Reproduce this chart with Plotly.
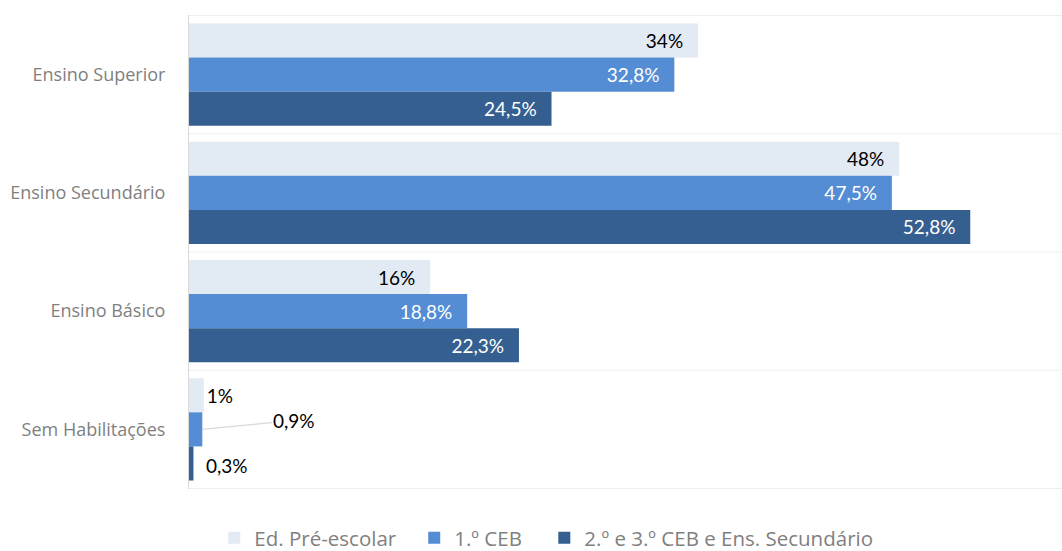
import plotly.graph_objects as go

categories = ["Ensino Superior", "Ensino Secundário", "Ensino Básico", "Sem Habilitações"]
series_names = ["Ed. Pré-escolar", "1.º CEB", "2.º e 3.º CEB e Ens. Secundário"]

pre_escolar = [34.4, 48.0, 16.3, 1.0]
ceb1 = [32.8, 47.5, 18.8, 0.9]
ceb23_sec = [24.5, 52.8, 22.3, 0.3]

pre_labels = ["34%", "48%", "16%", "1%"]
ceb1_labels = ["32,8%", "47,5%", "18,8%", "0,9%"]
ceb23_labels = ["24,5%", "52,8%", "22,3%", "0,3%"]

colors = ["#E2EAF4", "#548DD4", "#365F91"]
inside_font = ["#000000", "#FFFFFF", "#FFFFFF"]
legend_x = [0.029, 0.258, 0.407]

FONT = "Lato"
FONT2 = "Open Sans"
PAD = "\u2002\u2009"  # room between the label and the bar end

fig = go.Figure()

all_vals = [pre_escolar, ceb1, ceb23_sec]
all_labels = [pre_labels, ceb1_labels, ceb23_labels]
legend_ids = ["legend", "legend2", "legend3"]

for i in range(3):
  labels = [t + PAD for t in all_labels[i][:3]] + [all_labels[i][3]]
  if i > 0:
    labels[3] = ""  # drawn as annotations below
  fig.add_trace(go.Bar(
    y=categories, x=all_vals[i], orientation="h", name=series_names[i],
    marker=dict(color=colors[i], line=dict(width=0)),
    text=labels, textposition=["inside", "inside", "inside", "outside"],
    insidetextanchor="end",
    insidetextfont=dict(color=inside_font[i], size=19, family=FONT),
    outsidetextfont=dict(color="#000000", size=19, family=FONT),
    cliponaxis=False, hoverinfo="skip", legend=legend_ids[i],
  ))

# leader line label for 0,9%
fig.add_annotation(
  x=ceb1[3], y=categories[3], xref="x", yref="y",
  text=ceb1_labels[3], showarrow=True, arrowhead=0, arrowwidth=1.3,
  arrowcolor="#D9D9D9", ax=92, ay=-9, standoff=0,
  font=dict(size=19, color="#000000", family=FONT),
)
fig.add_annotation(
  x=ceb23_sec[3], y=categories[3], xref="x", yref="y", showarrow=False,
  text=ceb23_labels[3], xanchor="left", xshift=11, yshift=-36,
  font=dict(size=19, color="#000000", family=FONT),
)

# category separators
for k in range(len(categories) + 1):
  fig.add_shape(type="line", xref="paper", yref="y", x0=0, x1=1, y0=k - 0.5, y1=k - 0.5,
                line=dict(color="#EFEFEF", width=1), layer="below")

legend_style = dict(orientation="h", y=-0.103, yanchor="middle", xanchor="left",
                    font=dict(size=20.5, color="#808080", family=FONT2), itemwidth=30)

fig.update_layout(
  width=1062, height=551,
  margin=dict(l=189, r=0, t=15, b=62, autoexpand=False),
  barmode="group", bargap=0.135, bargroupgap=0,
  plot_bgcolor="white", paper_bgcolor="white",
  font=dict(family=FONT, color="#7F7F7F"),
  legend=dict(x=legend_x[0], **legend_style),
  legend2=dict(x=legend_x[1], **legend_style),
  legend3=dict(x=legend_x[2], **legend_style),
  showlegend=True,
)
fig.update_xaxes(range=[0, 59], showgrid=False, showticklabels=False, zeroline=False,
                 showline=False, automargin=False)
fig.update_yaxes(autorange="reversed", showgrid=False, showline=True, linecolor="#D9D9D9",
                 linewidth=1, ticks="", tickfont=dict(size=18, color="#7F7F7F", family=FONT2),
                 ticklabelstandoff=19, automargin=False)

fig.write_html("out.html", config={"displayModeBar": False},
               post_script="document.body.style.margin='0';")
